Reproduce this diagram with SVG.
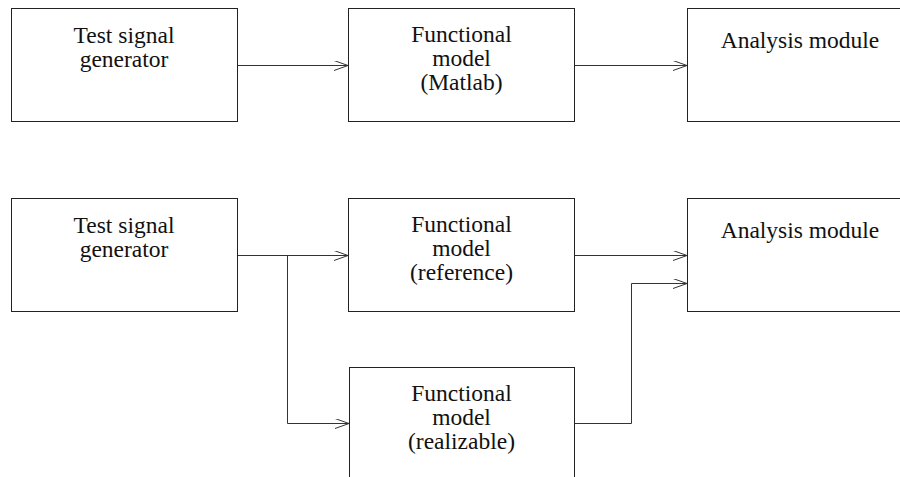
<svg xmlns="http://www.w3.org/2000/svg" width="900" height="477" viewBox="0 0 900 477">
<style>
.box{fill:#fff;stroke:#222;stroke-width:1}
.t{font-family:"Liberation Serif","Times New Roman",serif;font-size:23.5px;fill:#111;text-anchor:middle}
.c{fill:none;stroke:#333;stroke-width:1}
</style>
<defs>
<marker id="ah" markerUnits="userSpaceOnUse" markerWidth="16" markerHeight="12" refX="14" refY="5" orient="auto" viewBox="0 0 16 12">
<path d="M0,0 L14,5 L0,10" fill="none" stroke="#333" stroke-width="1"/>
</marker>
</defs>
<g id="connectors">
<path class="c" d="M237,65.5 H348" marker-end="url(#ah)"/>
<path class="c" d="M575,65.5 H687" marker-end="url(#ah)"/>
<path class="c" d="M237,255.5 H348" marker-end="url(#ah)"/>
<path class="c" d="M287.5,255.5 V423.5 H349" marker-end="url(#ah)"/>
<path class="c" d="M575,255.5 H687" marker-end="url(#ah)"/>
<path class="c" d="M574,423.5 H631.5 V283.5 H687" marker-end="url(#ah)"/>
</g>
<g id="gen1">
<rect class="box" x="11.5" y="8.5" width="226" height="113"/>
<text class="t" x="124" y="43">Test signal</text>
<text class="t" x="124" y="67">generator</text>
</g>
<g id="fm1">
<rect class="box" x="348.5" y="8.5" width="226" height="113"/>
<text class="t" x="461.5" y="42">Functional</text>
<text class="t" x="461.5" y="66">model</text>
<text class="t" x="461.5" y="90">(Matlab)</text>
</g>
<g id="am1">
<rect class="box" x="687.5" y="8.5" width="226" height="113"/>
<text class="t" x="800" y="48">Analysis module</text>
</g>
<g id="gen2">
<rect class="box" x="11.5" y="198.5" width="226" height="113"/>
<text class="t" x="124" y="233">Test signal</text>
<text class="t" x="124" y="257">generator</text>
</g>
<g id="fm2">
<rect class="box" x="348.5" y="198.5" width="226" height="113"/>
<text class="t" x="461.5" y="232">Functional</text>
<text class="t" x="461.5" y="256">model</text>
<text class="t" x="461.5" y="280">(reference)</text>
</g>
<g id="am2">
<rect class="box" x="687.5" y="198.5" width="226" height="113"/>
<text class="t" x="800" y="238">Analysis module</text>
</g>
<g id="fm3">
<rect class="box" x="349.5" y="367.5" width="225" height="113"/>
<text class="t" x="461.5" y="401">Functional</text>
<text class="t" x="461.5" y="425">model</text>
<text class="t" x="461.5" y="449">(realizable)</text>
</g>
</svg>
